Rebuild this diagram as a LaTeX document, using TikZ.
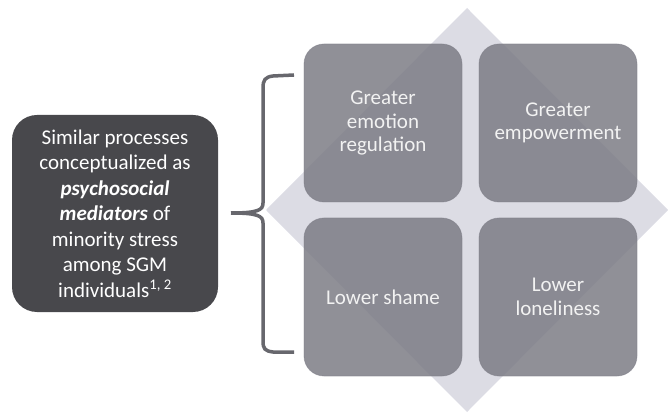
\documentclass[tikz,border=0pt]{standalone}
\usepackage{fontspec}
\setmainfont{Carlito}
\definecolor{darkbox}{HTML}{48484C}
\definecolor{tilegrey}{HTML}{7C7C85}
\definecolor{backdiamond}{HTML}{DCDCE4}
\definecolor{bracegrey}{HTML}{67676D}
\begin{document}
\begin{tikzpicture}[
  x=1pt,y=-1pt,
  tile/.style={fill=tilegrey,fill opacity=0.85,draw=tilegrey,draw opacity=0.5,
    line width=0.8pt,rounded corners=20pt,minimum width=158pt,minimum height=158pt,
    text=white!95!black,text opacity=1,align=center,inner sep=0pt,
    font=\fontsize{21}{23.5}\selectfont},
  sidebox/.style={fill=darkbox,rounded corners=25pt,minimum width=206pt,
    minimum height=197pt,text=white,align=center,inner sep=0pt,
    font=\fontsize{21}{25.5}\selectfont},
  brace/.style={draw=bracegrey,line width=3.5pt}]
  \useasboundingbox (0,0) rectangle (668,419);

  % background diamond behind the four tiles
  \fill[backdiamond] (467,8) -- (668,210) -- (467,412) -- (266,210) -- cycle;

  % four mediator tiles
  \node[tile] (emoreg) at (383,123) {Greater\\emotion\\regulation};
  \node[tile] (empower) at (558,123) {Greater\\empowerment};
  \node[tile] (shame) at (383,297) {Lower shame};
  \node[tile] (lonely) at (558,297) {Lower\\loneliness};

  % label box on the left
  \node[sidebox] (medbox) at (115,213.5)
    {Similar processes\\conceptualized as\\
     \textbf{\textit{psychosocial}}\\
     \textbf{\textit{mediators}} of\\
     minority stress\\among SGM\\
     individuals\textsuperscript{1, 2}};

  % curly brace grouping the tiles
  \coordinate (tip) at (231,213);
  \draw[brace] (294,75) -- (273,76) .. controls (265,77) and (263,80) .. (263,88)
    -- (263,203) .. controls (263,210) and (258,213) .. (tip);
  \draw[brace] (tip) .. controls (258,213) and (263,216) .. (263,223)
    -- (263,341) .. controls (263,349) and (265,351) .. (273,352) -- (294,352);
\end{tikzpicture}
\end{document}
